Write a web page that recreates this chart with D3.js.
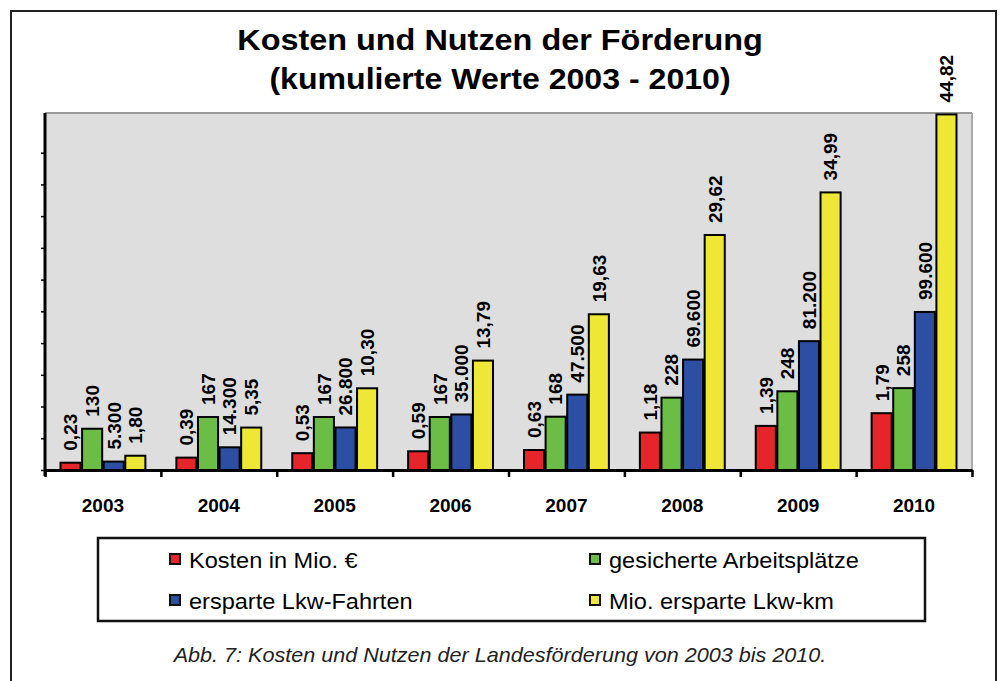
<!DOCTYPE html>
<html>
<head>
<meta charset="utf-8">
<script src="https://cdn.jsdelivr.net/npm/d3@7"></script>
<style>
  body { margin: 0; background: #fff; }
  text { font-family: "Liberation Sans", Arial, sans-serif; }
</style>
</head>
<body>
<svg id="chart" width="1000" height="681"></svg>
<script>
const years = ["2003", "2004", "2005", "2006", "2007", "2008", "2009", "2010"];
const seriesNames = ["Kosten in Mio. €", "gesicherte Arbeitsplätze", "ersparte Lkw-Fahrten", "Mio. ersparte Lkw-km"];
const kosten = [0.23, 0.39, 0.53, 0.59, 0.63, 1.18, 1.39, 1.79];
const arbeitsplaetze = [130, 167, 167, 167, 168, 228, 248, 258];
const lkwFahrten = [5300, 14300, 26800, 35000, 47500, 69600, 81200, 99600];
const lkwKm = [1.80, 5.35, 10.30, 13.79, 19.63, 29.62, 34.99, 44.82];
// each series was plotted against its own hidden axis maximum
const axisMax = [11.25, 1125, 225000, 45];
const tickValues = [0, 4, 8, 12, 16, 20, 24, 28, 32, 36, 40];

const colors = ["#e5252a", "#6cbd45", "#2c4fa3", "#efe736"];
const allSeries = [kosten, arbeitsplaetze, lkwFahrten, lkwKm];

const de = d3.formatLocale({ decimal: ",", thousands: ".", grouping: [3], currency: ["", " €"] });
const formats = [de.format(",.2f"), de.format("d"), de.format(",d"), de.format(",.2f")];

const svg = d3.select("#chart");
const margin = { top: 113, right: 28, bottom: 211, left: 45 };
const width = +svg.attr("width");
const height = +svg.attr("height");
const plotBottom = height - margin.bottom;

// outer frame
svg.append("rect")
  .attr("x", 11).attr("y", 11)
  .attr("width", 985).attr("height", 720)
  .attr("fill", "none").attr("stroke", "#222").attr("stroke-width", 2);

// title (the original type is a bit wider than Arial)
svg.append("text")
  .attr("transform", "translate(500,50) scale(1.08,1)")
  .attr("text-anchor", "middle")
  .style("font-size", "30px").style("font-weight", "bold")
  .text("Kosten und Nutzen der Förderung");
svg.append("text")
  .attr("transform", "translate(500,89) scale(1.07,1)")
  .attr("text-anchor", "middle")
  .style("font-size", "30px").style("font-weight", "bold")
  .text("(kumulierte Werte 2003 - 2010)");

const x0 = d3.scaleBand()
  .domain(years)
  .range([margin.left, width - margin.right])
  .padding(0);

const x1 = d3.scaleBand()
  .domain(d3.range(seriesNames.length))
  .range([15.5, x0.bandwidth() - 15.5])
  .paddingInner(0.07);

const yScales = axisMax.map(m => d3.scaleLinear()
  .domain([0, m])
  .range([plotBottom, margin.top]));

// plot background
svg.append("rect")
  .attr("x", margin.left).attr("y", margin.top)
  .attr("width", width - margin.right - margin.left)
  .attr("height", plotBottom - margin.top)
  .attr("fill", "#dedede");
svg.append("line")
  .attr("x1", margin.left).attr("x2", width - margin.right)
  .attr("y1", margin.top).attr("y2", margin.top)
  .attr("stroke", "#999").attr("stroke-width", 2);
svg.append("line")
  .attr("x1", width - margin.right).attr("x2", width - margin.right)
  .attr("y1", margin.top).attr("y2", plotBottom)
  .attr("stroke", "#aaa").attr("stroke-width", 2);

// bars
const groups = svg.selectAll("g.year")
  .data(years)
  .enter()
  .append("g")
  .attr("class", "year")
  .attr("transform", d => `translate(${x0(d)},0)`);

groups.each(function(year, i) {
  const g = d3.select(this);
  allSeries.forEach((vals, s) => {
    const y = yScales[s];
    g.append("rect")
      .attr("x", x1(s))
      .attr("y", y(vals[i]))
      .attr("width", x1.bandwidth())
      .attr("height", plotBottom - y(vals[i]))
      .attr("fill", colors[s])
      .attr("stroke", "#000")
      .attr("stroke-width", 2);

    g.append("text")
      .attr("transform", `translate(${x1(s) + x1.bandwidth() / 2},${y(vals[i]) - 12}) rotate(-90)`)
      .attr("dy", "0.36em")
      .style("font-size", "19px").style("font-weight", "bold")
      .text(formats[s](vals[i]));
  });
});

// left axis (no labels, only ticks)
svg.append("g")
  .attr("transform", `translate(${margin.left},0)`)
  .call(d3.axisLeft(yScales[3]).tickValues(tickValues).tickFormat("").tickSize(4).tickSizeOuter(0))
  .call(g => g.select(".domain").attr("stroke-width", 3).attr("d", `M0,${margin.top}V${plotBottom + 6}`))
  .call(g => g.selectAll(".tick line").attr("stroke-width", 1.5));

// bottom axis: ticks between the categories
const xEdges = d3.scaleLinear().domain([0, years.length]).range([margin.left, width - margin.right]);
svg.append("g")
  .attr("transform", `translate(0,${plotBottom})`)
  .call(d3.axisBottom(xEdges).tickValues(d3.range(years.length + 1)).tickFormat("").tickSize(7).tickSizeOuter(0))
  .call(g => g.select(".domain").attr("stroke-width", 3))
  .call(g => g.selectAll(".tick line").attr("stroke-width", 2.5));

svg.append("g")
  .selectAll("text")
  .data(years)
  .enter()
  .append("text")
  .attr("x", d => x0(d) + x0.bandwidth() / 2)
  .attr("y", 512)
  .attr("text-anchor", "middle")
  .style("font-size", "19px").style("font-weight", "bold")
  .text(d => d);

// legend
const legend = svg.append("g");
legend.append("rect")
  .attr("x", 98).attr("y", 538)
  .attr("width", 827).attr("height", 83)
  .attr("fill", "none").attr("stroke", "#111").attr("stroke-width", 2.5);

const legendPos = [[169, 568], [589, 568], [169, 609], [589, 609]];
const items = legend.selectAll("g.item")
  .data(d3.range(seriesNames.length))
  .enter()
  .append("g")
  .attr("class", "item")
  .attr("transform", (d, i) => `translate(${legendPos[i][0]},${legendPos[i][1]})`);
items.append("rect")
  .attr("x", 1).attr("y", -14)
  .attr("width", 10).attr("height", 10)
  .attr("fill", d => colors[d])
  .attr("stroke", "#111").attr("stroke-width", 2);
items.append("text")
  .attr("transform", "translate(20,0) scale(1.07,1)")
  .style("font-size", "22px")
  .text(d => seriesNames[d]);

// caption
svg.append("text")
  .attr("transform", "translate(500,662) scale(1.08,1)")
  .attr("text-anchor", "middle")
  .style("font-size", "20px").style("font-style", "italic")
  .attr("fill", "#222")
  .text("Abb. 7: Kosten und Nutzen der Landesförderung von 2003 bis 2010.");
</script>
</body>
</html>
